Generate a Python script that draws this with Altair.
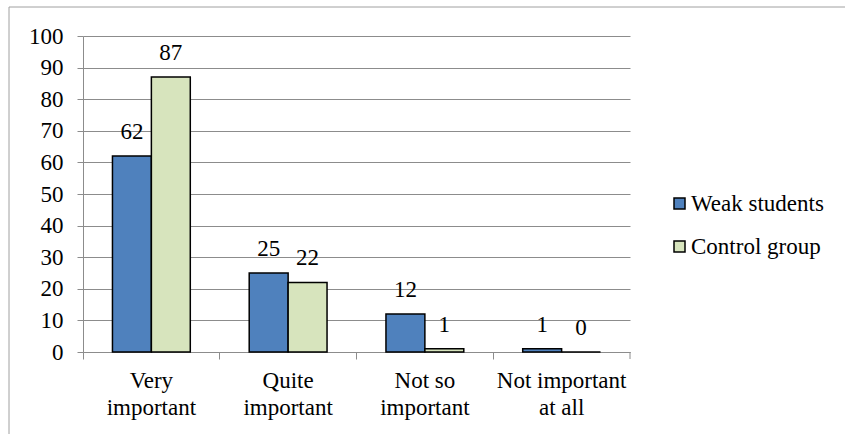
import altair as alt
import pandas as pd

categories = ["Very important", "Quite important", "Not so important", "Not important at all"]
cat_labels = [["Very", "important"], ["Quite", "important"], ["Not so", "important"], ["Not important", "at all"]]
series = ["Weak students", "Control group"]
weak = [62, 25, 12, 1]
control = [87, 22, 1, 0]
colors = ["#4F81BD", "#D7E4BD"]

rows = []
for i, c in enumerate(categories):
    rows.append({"cat": c, "series": series[0], "value": weak[i]})
    rows.append({"cat": c, "series": series[1], "value": control[i]})
df = pd.DataFrame(rows)

label_expr = "{" + ", ".join(
    f"'{c}': ['{a}', '{b}']" for c, (a, b) in zip(categories, cat_labels)
) + "}[datum.label]"

FONT = "Liberation Serif"
FS = 23
W, H = 547, 316

x_enc = alt.X("cat:N", sort=categories, title=None,
              scale=alt.Scale(paddingInner=0, paddingOuter=0),
              axis=alt.Axis(labelExpr=label_expr, labelAngle=0, bandPosition=0,
                            domainColor="#8C8C8C", tickColor="#8C8C8C", tickSize=7,
                            labelFontSize=FS, labelFont=FONT, labelColor="black",
                            labelPadding=10, labelLineHeight=27, grid=False))
xo = alt.XOffset("series:N", sort=series,
                 scale=alt.Scale(paddingOuter=0.757, paddingInner=0))
y_enc = alt.Y("value:Q", title=None,
              scale=alt.Scale(domain=[0, 100], nice=False),
              axis=alt.Axis(values=list(range(0, 101, 10)), grid=True, gridColor="#8C8C8C",
                            domainColor="#8C8C8C", tickColor="#8C8C8C", tickSize=6,
                            labelFontSize=FS, labelFont=FONT, labelColor="black",
                            labelPadding=14, labelOverlap=False))

base = alt.Chart(df)
bars = base.mark_bar(stroke="black", strokeWidth=1.5).encode(
    x=x_enc, xOffset=xo, y=y_enc,
    color=alt.Color("series:N", sort=series,
                    scale=alt.Scale(domain=series, range=colors),
                    legend=alt.Legend(title=None, orient="none", legendX=585, legendY=156,
                                      symbolType="square", symbolSize=121,
                                      symbolStrokeColor="black", symbolStrokeWidth=1.5,
                                      labelFontSize=FS, labelFont=FONT, labelColor="black",
                                      rowPadding=19, labelOffset=0)),
)
texts = base.mark_text(dy=-17, baseline="alphabetic", fontSize=FS, font=FONT,
                       color="black").encode(
    x=x_enc, xOffset=xo, y=y_enc, text="value:Q"
)
end_tick = alt.Chart(pd.DataFrame({"a": [0]})).mark_rule(color="#8C8C8C").encode(
    x=alt.value(W), y=alt.value(H), y2=alt.value(H + 7)
)
border = alt.Chart(pd.DataFrame({"a": [0]})).mark_rect(
    fill=None, stroke="#A0A0A0", strokeWidth=1
).encode(x=alt.value(-74), x2=alt.value(900), y=alt.value(-29), y2=alt.value(600))

chart = alt.layer(border, bars, texts, end_tick).properties(
    width=W, height=H,
    autosize=alt.AutoSizeParams(type="none"),
    padding={"left": 83, "top": 36, "right": 215, "bottom": 82},
).configure_view(stroke=None).configure_axis(
    labelFont=FONT, labelFontSize=FS
).configure_legend(labelFont=FONT, labelFontSize=FS)

chart.save("out.html", embed_options={"renderer": "svg", "actions": False})
